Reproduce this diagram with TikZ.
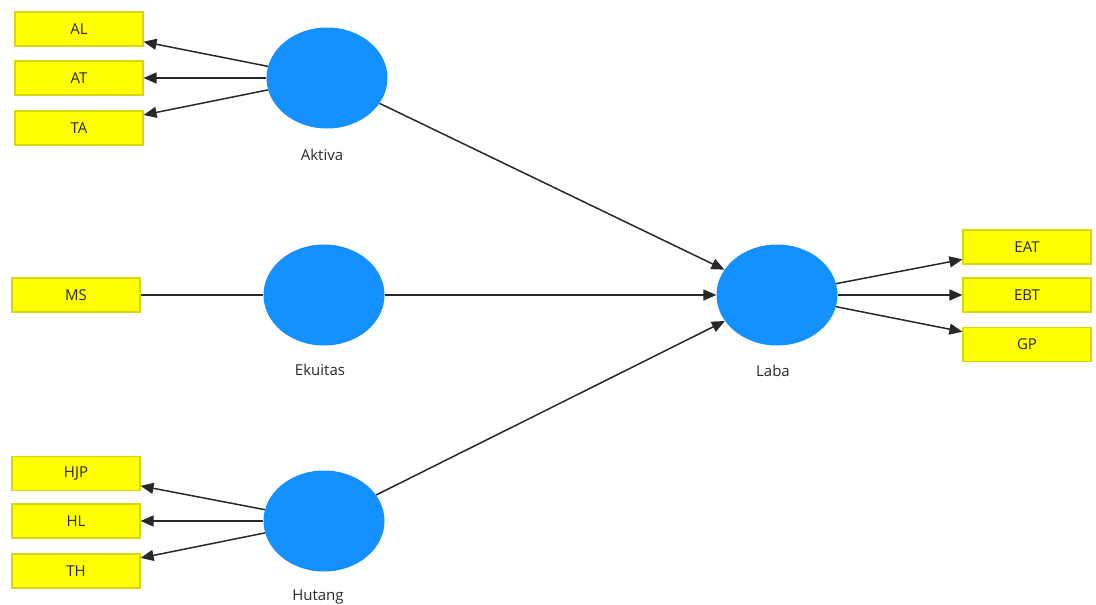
\documentclass[tikz,border=0pt]{standalone}
\usepackage{fontspec}
\setmainfont{Open Sans}
\usetikzlibrary{arrows.meta,shapes.geometric}
\definecolor{latent}{RGB}{20,144,255}
\definecolor{indic}{RGB}{255,255,0}
\definecolor{indicborder}{RGB}{214,214,20}
\definecolor{ink}{RGB}{40,40,40}
\begin{document}
\begin{tikzpicture}[x=1pt,y=-1pt,
  font=\fontsize{15}{17}\selectfont,
  ind/.style={draw=indicborder,line width=1.2pt,fill=indic,minimum width=128pt,minimum height=34pt,inner sep=0pt,text=ink},
  lat/.style={ellipse,fill=latent,minimum width=121pt,minimum height=101pt,inner sep=0pt},
  lbl/.style={text=ink},
  link/.style={draw=ink,line width=1.5pt},
  arr/.style={link,-{Triangle[length=13pt,width=11pt]}}
]
\useasboundingbox (0,0) rectangle (1096,605);
% indicator boxes
\node[ind] (al)  at (79,29)    {AL};
\node[ind] (at)  at (79,78)    {AT};
\node[ind] (ta)  at (79,128)   {TA};
\node[ind] (ms)  at (76,295)   {MS};
\node[ind] (hjp) at (76,473.5) {HJP};
\node[ind] (hl)  at (76,521)   {HL};
\node[ind] (th)  at (76,571)   {TH};
\node[ind] (eat) at (1027,247) {EAT};
\node[ind] (ebt) at (1027,295) {EBT};
\node[ind] (gp)  at (1027,344.5) {GP};
% latent variables
\node[lat] (akt) at (327,78)  {};
\node[lat] (eku) at (324,295) {};
\node[lat] (hut) at (324,521) {};
\node[lat] (lab) at (777,295) {};
% latent labels
\node[lbl] (aktl) at (322,155) {Aktiva};
\node[lbl] (ekul) at (320,370) {Ekuitas};
\node[lbl] (hutl) at (318,597) {Hutang};
\node[lbl] (labl) at (773,371) {Laba};
% outer model
\draw[arr] (akt) -- (al);
\draw[arr] (akt) -- (at);
\draw[arr] (akt) -- (ta);
\draw[link] (eku) -- (ms);
\draw[arr] (hut) -- (hjp);
\draw[arr] (hut) -- (hl);
\draw[arr] (hut) -- (th);
\draw[arr] (lab) -- (eat);
\draw[arr] (lab) -- (ebt);
\draw[arr] (lab) -- (gp);
% inner model
\draw[arr] (akt) -- (lab);
\draw[arr] (eku) -- (lab);
\draw[arr] (hut) -- (lab);
\end{tikzpicture}
\end{document}
